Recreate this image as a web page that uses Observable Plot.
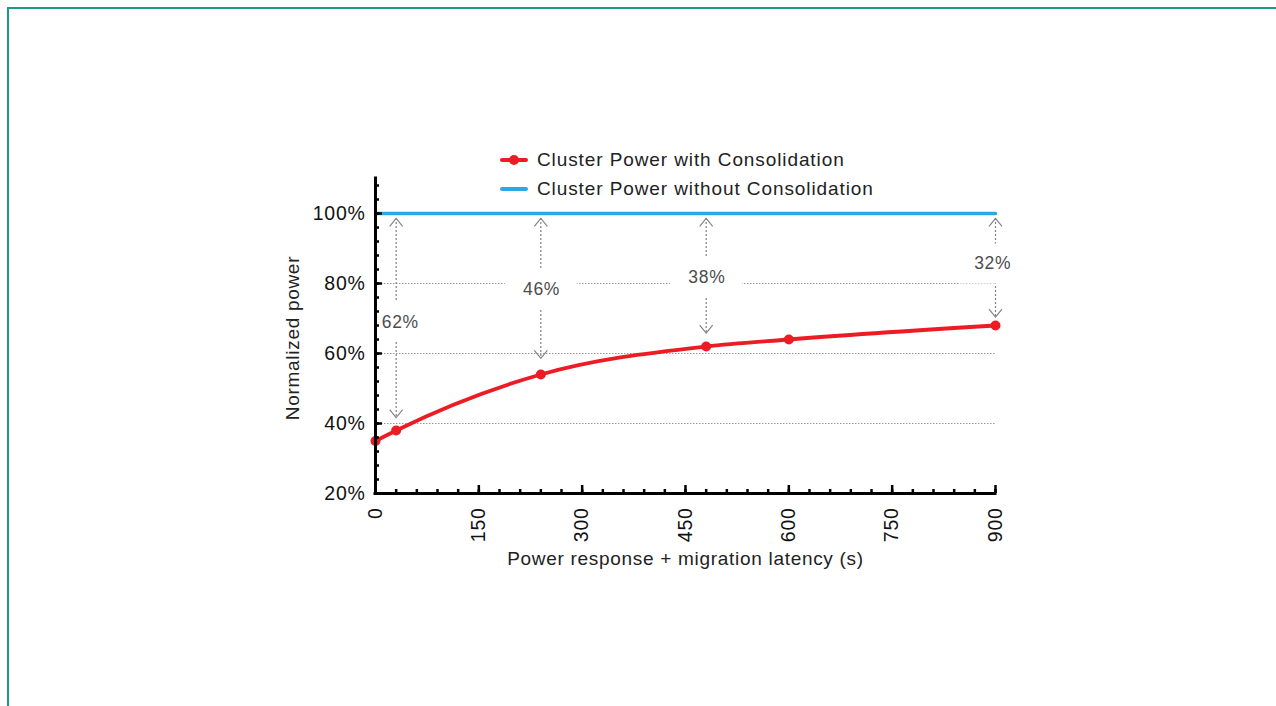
<!DOCTYPE html>
<html><head><meta charset="utf-8">
<script src="https://cdn.jsdelivr.net/npm/d3@7"></script>
<script src="https://cdn.jsdelivr.net/npm/@observablehq/plot@0.6"></script>
<style>
html,body{margin:0;padding:0;background:#fff;}
#wrap{position:relative;width:1276px;height:706px;overflow:hidden;font-family:"Liberation Sans",Arial,sans-serif;}
#frame{position:absolute;left:7px;top:7px;right:-10px;bottom:-10px;border-top:2.5px solid #1b998b;border-left:2.5px solid #1b998b;}
#chart{position:absolute;left:0;top:0;}
#legend{position:absolute;left:500px;top:145.5px;font-size:19px;letter-spacing:0.9px;color:#222;}
.row{display:flex;align-items:center;height:29px;}
.sw{position:relative;width:28px;height:29px;margin-right:9px;}
.sw .ln{position:absolute;left:0;right:0;top:12.5px;height:4px;border-radius:2px;}
.sw .dt{position:absolute;left:9px;top:9.5px;width:10px;height:10px;border-radius:50%;}
</style></head>
<body><div id="wrap"><div id="frame"></div><div id="chart"></div><div id="legend"></div></div>
<script>
// ---- data ----
const latency = [0, 30, 240, 480, 600, 900];
const powerWith = [35, 38, 54, 62, 64, 68];
const baselineX = [0, 900];
const powerWithout = [100, 100];
const seriesNames = ["Cluster Power with Consolidation", "Cluster Power without Consolidation"];
const seriesColors = ["#ed1c24", "#29abe2"];
const gapX = [30, 240, 480, 900];
const gapLabels = ["62%", "46%", "38%", "32%"];
const arrowTop = 98.6;
const arrowBottom = [41.7, 58.6, 65.8, 70.4];
const labelX = [36, 241, 481, 896];
const labelY = [69, 78.3, 81.7, 85.7];
const xTicks = [0, 150, 300, 450, 600, 750, 900];
const xMinor = d3.range(0, 901, 30);
const yTicks = [20, 40, 60, 80, 100];
const yMinor = d3.range(20, 109, 4);
const gridValues = [40, 60, 80];
const xLabel = "Power response + migration latency (s)";
const yLabel = "Normalized power";

// ---- tables ----
const withRows = latency.map((x, i) => ({x, y: powerWith[i]}));
const withoutRows = baselineX.map((x, i) => ({x, y: powerWithout[i]}));
const gapRows = gapX.map((x, i) => ({x, top: arrowTop, bottom: arrowBottom[i], lx: labelX[i], ly: labelY[i], label: gapLabels[i]}));

const boxSymbol = {draw(ctx) { ctx.rect(-36, -20, 72, 40); }};
const headUp = {draw(ctx) { ctx.moveTo(-6.5, 8); ctx.lineTo(0, 0); ctx.lineTo(6.5, 8); }};
const headDown = {draw(ctx) { ctx.moveTo(-6.5, -8); ctx.lineTo(0, 0); ctx.lineTo(6.5, -8); }};
const grey = "#808080";

const chart = Plot.plot({
  width: 1276, height: 706,
  marginLeft: 375, marginRight: 281, marginTop: 178, marginBottom: 213,
  style: {fontFamily: "Liberation Sans, Arial, sans-serif", background: "transparent", color: "#111", letterSpacing: "0.7px"},
  x: {domain: [0, 900]},
  y: {domain: [20, 110]},
  marks: [
    Plot.ruleY(gridValues, {stroke: "#999", strokeWidth: 1, strokeDasharray: "1.5,1.5"}),
    Plot.ruleX(gapRows, {x: "x", y1: "top", y2: "bottom", stroke: grey, strokeWidth: 1.2, strokeDasharray: "2,2"}),
    Plot.dot(gapRows, {x: "x", y: "ly", symbol: boxSymbol, fill: "white", stroke: "none"}),
    Plot.text(gapRows, {x: "lx", y: "ly", text: "label", fontSize: 17.5, fill: "#4d4d4d"}),
    Plot.dot(gapRows, {x: "x", y: "top", symbol: headUp, fill: "none", stroke: grey, strokeWidth: 1.1}),
    Plot.dot(gapRows, {x: "x", y: "bottom", symbol: headDown, fill: "none", stroke: grey, strokeWidth: 1.1}),
    Plot.line(withoutRows, {x: "x", y: "y", stroke: seriesColors[1], strokeWidth: 3.5}),
    Plot.line(withRows, {x: "x", y: "y", stroke: seriesColors[0], strokeWidth: 3.8, curve: "monotone-x"}),
    Plot.dot(withRows, {x: "x", y: "y", r: 5, fill: seriesColors[0]}),
    // axes
    Plot.ruleY([20], {stroke: "#000", strokeWidth: 3, strokeLinecap: "square"}),
    Plot.ruleX([0], {stroke: "#000", strokeWidth: 3, strokeLinecap: "square"}),
    Plot.axisX(xMinor, {tickSize: 4, dy: -4, fill: "none", label: null, strokeWidth: 2.5, stroke: "#000"}),
    Plot.axisX(xTicks, {tickSize: 8, dy: -8, fill: "none", label: null, strokeWidth: 2.5, stroke: "#000"}),
    Plot.axisY(yMinor, {tickSize: 4, dx: 4, fill: "none", label: null, strokeWidth: 2.5, stroke: "#000"}),
    Plot.axisY(yTicks, {tickSize: 7, dx: 7, fill: "none", label: null, strokeWidth: 2.5, stroke: "#000"}),
    Plot.axisX(xTicks, {tickSize: 0, tickPadding: 14, tickRotate: -90, fontSize: 19.5, label: null, fill: "#111"}),
    Plot.axisY(yTicks, {tickSize: 0, tickPadding: 10, tickFormat: d => d + "%", fontSize: 19.5, label: null, fill: "#111"}),
    Plot.text([yLabel], {text: d => d, frameAnchor: "left", textAnchor: "middle", lineAnchor: "middle", dx: -83, dy: 2, rotate: -90, fontSize: 19, fill: "#222"}),
    Plot.text([xLabel], {text: d => d, frameAnchor: "bottom", textAnchor: "middle", lineAnchor: "middle", dy: 65, fontSize: 19, fill: "#222"})
  ]
});
document.getElementById("chart").appendChild(chart);

// ---- legend ----
const legend = d3.select("#legend");
seriesNames.forEach((name, i) => {
  const row = legend.append("div").attr("class", "row");
  const sw = row.append("div").attr("class", "sw");
  sw.append("div").attr("class", "ln").style("background", seriesColors[i]);
  if (i === 0) sw.append("div").attr("class", "dt").style("background", seriesColors[i]);
  row.append("span").text(name);
});
</script>
</body></html>
